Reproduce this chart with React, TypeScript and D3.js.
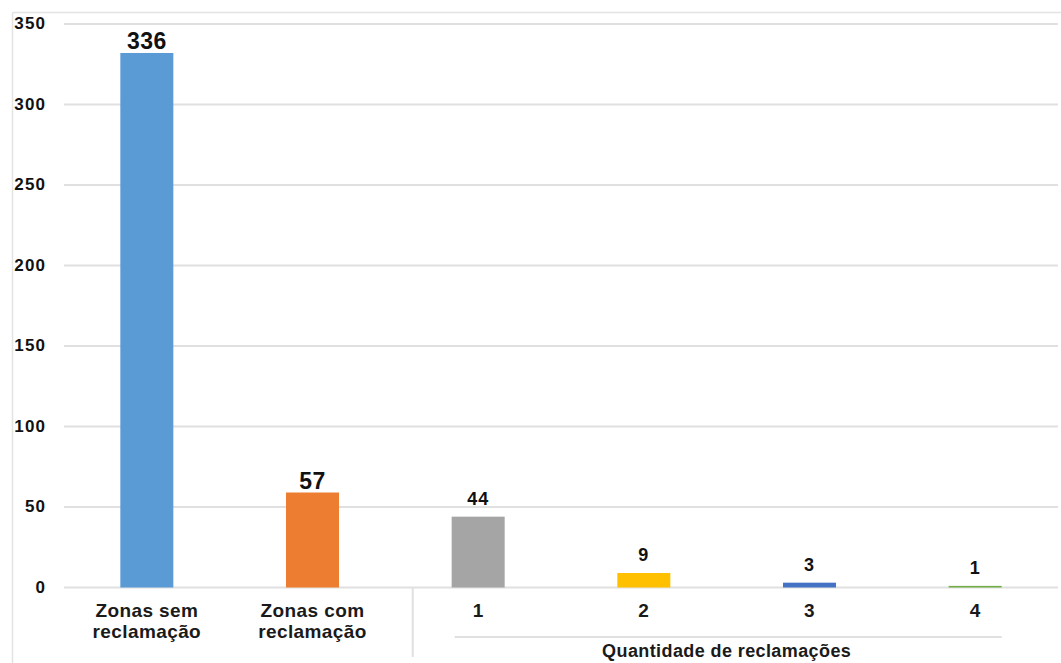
import React from "react";
import * as d3 from "d3";

const categories = ["Zonas sem\nreclamação", "Zonas com\nreclamação", "1", "2", "3", "4"];
const barValues = [332, 59, 44, 9, 3, 1];
const valueLabels = ["336", "57", "44", "9", "3", "1"];
const barColors = ["#5B9BD5", "#ED7D31", "#A5A5A5", "#FFC000", "#4472C4", "#70AD47"];
const yTicks = [0, 50, 100, 150, 200, 250, 300, 350];
const groupLabel = "Quantidade de reclamações";

const W = 1061;
const H = 663;
const FONT = "'Liberation Sans', Arial, sans-serif";

export default function App() {
  const left = 64;
  const right = 1058;
  const y = d3.scaleLinear().domain([0, 350]).range([587.5, 24]);
  const x = d3
    .scaleBand<string>()
    .domain(categories)
    .range([left, right])
    .paddingInner(0.68)
    .paddingOuter(0.34);
  const bw = x.bandwidth();
  const step = x.step();
  const grpStart = x(categories[2])!;
  const grpEnd = x(categories[5])! + bw;
  const sepX = grpStart - step * 0.235;

  return (
    <svg
      width={W}
      height={H}
      style={{ position: "absolute", left: 0, top: 0, background: "#fff" }}
      fontFamily={FONT}
    >
      <rect x={0} y={0} width={W} height={H} fill="#fff" />
      {/* outer border */}
      <line x1={12.5} y1={12.5} x2={W} y2={12.5} stroke="#e3e3e3" strokeWidth={1.5} />
      <line x1={12.5} y1={12.5} x2={12.5} y2={H} stroke="#e3e3e3" strokeWidth={1.5} />

      {/* gridlines */}
      {yTicks.map((t) => (
        <line key={"g" + t} x1={left} x2={right} y1={y(t)} y2={y(t)} stroke="#e0e0e0" strokeWidth={2} />
      ))}
      {/* y tick labels */}
      {yTicks.map((t) => (
        <text
          key={"t" + t}
          x={46}
          y={y(t) + 5}
          textAnchor="end"
          fontSize={17}
          fontWeight="bold"
          letterSpacing={1.1}
          fill="#111"
        >
          {t}
        </text>
      ))}

      {/* bars */}
      {categories.map((c, i) => (
        <rect
          key={"b" + i}
          x={x(c)}
          y={y(barValues[i])}
          width={bw}
          height={Math.max(1.5, y(0) - y(barValues[i]))}
          fill={barColors[i]}
        />
      ))}

      {/* value labels */}
      {categories.map((c, i) => {
        const big = i < 2;
        return (
          <text
            key={"v" + i}
            x={x(c)! + bw / 2}
            y={y(barValues[i]) - (big ? 4 : 12)}
            textAnchor="middle"
            fontSize={big ? 23 : 18}
            fontWeight="bold"
            letterSpacing={big ? 0.5 : 1}
            fill="#111"
          >
            {valueLabels[i]}
          </text>
        );
      })}

      {/* category labels */}
      {categories.map((c, i) => {
        const lines = c.split("\n");
        return (
          <text
            key={"c" + i}
            x={x(c)! + bw / 2}
            textAnchor="middle"
            fontSize={19}
            fontWeight="bold"
            letterSpacing={0.4}
            fill="#1a1a1a"
          >
            {lines.map((l, j) => (
              <tspan key={j} x={x(c)! + bw / 2} y={617 + j * 21}>
                {l}
              </tspan>
            ))}
          </text>
        );
      })}

      {/* group separators */}
      <line x1={sepX} x2={sepX} y1={588} y2={657} stroke="#e0e0e0" strokeWidth={2} />
      <line x1={grpStart + 3} x2={grpEnd} y1={637} y2={637} stroke="#e0e0e0" strokeWidth={2} />
      <text
        x={(grpStart + grpEnd) / 2}
        y={657}
        textAnchor="middle"
        fontSize={18}
        fontWeight="bold"
        letterSpacing={0.4}
        fill="#1a1a1a"
      >
        {groupLabel}
      </text>
    </svg>
  );
}
